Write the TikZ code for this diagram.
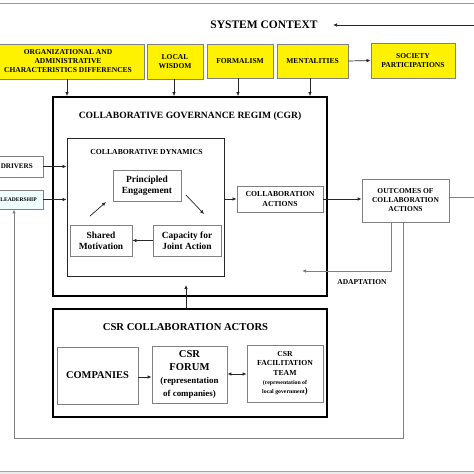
\documentclass[tikz,border=0pt]{standalone}
\usepackage{fontspec}
\setmainfont{Liberation Serif}
\usetikzlibrary{arrows.meta}
\newcommand{\fs}[1]{\fontsize{#1}{0pt}\selectfont\setlength\baselineskip{1.2\dimexpr#1pt\relax}}
\begin{document}
\begin{tikzpicture}[x=1pt,y=-1pt,
  every node/.style={font=\bfseries, inner sep=0pt, align=center},
  fz/.style={font={\bfseries\fs{#1}}},
  ybox/.style={draw=gray, fill=yellow, line width=0.8pt, fz=7.5},
  tbox/.style={draw=gray, line width=0.9pt},
  bbox/.style={draw=black, line width=1.8pt},
  cdbox/.style={draw=black!85, line width=1pt},
  arr/.style={-{Latex[length=4pt,width=3.5pt]}, line width=0.7pt, draw=black!85},
  darr/.style={{Latex[length=4pt,width=3.5pt]}-{Latex[length=4pt,width=3.5pt]}, line width=0.7pt, draw=black!85},
  gline/.style={draw=gray, line width=1pt}]
\useasboundingbox (0,0) rectangle (474,474);
% frame lines
\draw[gray!80, line width=1pt] (0,3) -- (474,3);
\fill[gray!15] (0,471) rectangle (474,474);
\draw[gray!70, line width=0.8pt] (0,471) -- (474,471);

% system context
\node[fz=11.5] (sc) at (264,25) {SYSTEM CONTEXT};
\coordinate (scR) at (476,25);
\coordinate (scL) at (333,25);
\draw[arr] (scR) -- (scL);

% yellow boxes
\node[ybox, minimum width=152, minimum height=35] (org) at (68,61.5) {ORGANIZATIONAL AND\\ADMINISTRATIVE\\CHARACTERISTICS DIFFERENCES};
\node[ybox, minimum width=56, minimum height=35] (lw) at (175,61.5) {LOCAL\\WISDOM};
\node[ybox, minimum width=66, minimum height=34] (form) at (240,61) {FORMALISM};
\node[ybox, minimum width=71, minimum height=34] (ment) at (312.5,61) {MENTALITIES};
\node[ybox, minimum width=84, minimum height=35] (soc) at (413,60.5) {SOCIETY\\PARTICIPATIONS};
\draw[arr] (ment.east) -- (soc.west);

% CGR
\node[bbox, minimum width=274, minimum height=199] (cgr) at (190,196.5) {};
\node[fz=9.6] (cgrt) at (190,116) {COLLABORATIVE GOVERNANCE REGIM (CGR)};
\draw[arr] ([xshift=-1pt]org.south) -- ([xshift=-1pt]org.south |- cgr.north);
\draw[arr] ([xshift=-1pt]lw.south) -- ([xshift=-1pt]lw.south |- cgr.north);
\draw[arr] ([xshift=-2pt]form.south) -- ([xshift=-2pt]form.south |- cgr.north);
\draw[arr] ([xshift=-2.5pt]ment.south) -- ([xshift=-2.5pt]ment.south |- cgr.north);

% collaborative dynamics
\node[cdbox, minimum width=157, minimum height=138] (cd) at (145.5,207) {};
\node[fz=7.7] (cdt) at (146.5,152) {COLLABORATIVE DYNAMICS};
\node[tbox, fz=9.4, minimum width=68, minimum height=31] (pe) at (147,185.5) {Principled\\Engagement};
\node[tbox, fz=9.4, minimum width=62, minimum height=31] (sm) at (101,240.5) {Shared\\Motivation};
\node[tbox, fz=9.4, minimum width=68, minimum height=31] (cja) at (187,240.5) {Capacity for\\Joint Action};
\draw[arr] (cja.west) -- (sm.east);
\coordinate (d1a) at (90,216); \coordinate (d1b) at (106,202);
\coordinate (d2a) at (186,195); \coordinate (d2b) at (204,214);
\draw[arr] (d1a) -- (d1b);
\draw[arr] (d2a) -- (d2b);

% drivers / leadership
\node[tbox, minimum width=53, minimum height=21] (drv) at (16.5,166.5) {};
\node[fz=7.1, anchor=east] (drvt) at (33,166.5) {DRIVERS};
\node[tbox, fill=blue!8!cyan!6, minimum width=53, minimum height=19] (lead) at (16.5,199.5) {};
\node[fz=5.6, anchor=east] (leadt) at (37,199.5) {LEADERSHIP};
\draw[arr] (drv.east) -- (drv.east -| cd.west);
\draw[arr] (lead.east) -- (lead.east -| cd.west);

% collaboration actions / outcomes
\node[tbox, fz=7.7, minimum width=86, minimum height=26] (ca) at (280,199) {COLLABORATION\\ACTIONS};
\node[tbox, fz=7.5, minimum width=87, minimum height=43] (out) at (405.5,200.5) {OUTCOMES OF\\COLLABORATION\\ACTIONS};
\draw[arr] (cd.east |- ca.west) -- (ca.west);
\draw[arr] (ca.east) -- (out.west |- ca.east);
\coordinate (rexit) at (476,197);
\draw[gline] (out.east |- rexit) -- (rexit);

% adaptation
\coordinate (adE) at (302,271);
\draw[gline, -{Latex[length=4pt,width=3.5pt]}] ([xshift=-14.5pt]out.south) |- (adE);
\node[fz=7.5] (adt) at (362,282) {ADAPTATION};

% big loop
\coordinate (lpR) at (403,438);
\coordinate (lpL) at (14,438);
\draw[gline, -{Latex[length=4pt,width=3.5pt]}] ([xshift=-2.5pt]out.south) -- (lpR) -- (lpL) -- (lpL |- lead.south);

% CSR actors
\node[bbox, minimum width=274, minimum height=108] (csr) at (190,363) {};
\node[fz=10.6] (csrt) at (185.5,327) {CSR COLLABORATION ACTORS};
\coordinate (csrA) at (186,285);
\draw[arr] (csrA |- csr.north) -- (csrA);
\node[tbox, fz=10.4, minimum width=81, minimum height=57] (comp) at (97.5,375.5) {COMPANIES};
\node[tbox, fz=10.6, minimum width=75, minimum height=57] (forum) at (189.5,374.5) {CSR\\FORUM\\\fs{8.9}(representation\\\fs{8.9}of companies)};
\node[tbox, fz=7.7, minimum width=76, minimum height=57] (fac) at (285,373.5) {CSR\\FACILITATION\\TEAM\\\fs{5.8}(representation of\\\fs{5.8}local government\fs{8.5})};
\draw[arr] (comp.east |- 0,377) -- (forum.west |- 0,377);
\draw[darr] (forum.east |- 0,374) -- (fac.west |- 0,374);
\end{tikzpicture}
\end{document}
